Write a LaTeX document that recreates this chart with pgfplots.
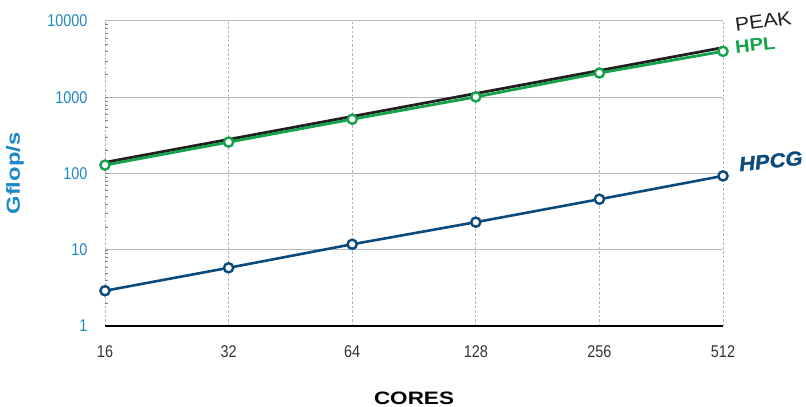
\documentclass[border=0pt]{standalone}
\usepackage{fontspec}
\setmainfont{Liberation Sans}
\newfontfamily\condfont[FakeStretch=0.85]{Liberation Sans}
\newfontfamily\widefont[FakeStretch=1.25]{Liberation Sans}
\newfontfamily\midfont[FakeStretch=1.12]{Liberation Sans}
\newfontfamily\heavyfont[FakeStretch=1.1, FakeBold=1.5]{Liberation Sans}
\usepackage{pgfplots}
\pgfplotsset{compat=1.18}
\definecolor{tickblue}{HTML}{1E88C6}
\definecolor{hpcgblue}{HTML}{0B4A7C}
\definecolor{hplgreen}{HTML}{14A24A}
\definecolor{peakblack}{HTML}{231F20}
\definecolor{xtickgray}{HTML}{333333}
\begin{document}
\begin{tikzpicture}[x=1pt,y=1pt]
\useasboundingbox (0,0) rectangle (806,407);
\begin{axis}[
  at={(105pt,81pt)}, anchor=south west,
  scale only axis, width=618pt, height=305pt,
  xmode=log, log basis x=2, ymode=log,
  xmin=16, xmax=512, ymin=1, ymax=10000,
  xtick={16,32,64,128,256,512},
  xticklabels={16,32,64,128,256,512},
  ytick={1,10,100,1000,10000},
  yticklabels={1,10,100,1000,10000},
  minor tick num=0, minor ytick={},
  major tick length=0pt,
  axis x line*=bottom, axis y line*=left,
  x axis line style={draw=black, line width=1.6pt, -},
  y axis line style={draw=none},
  xmajorgrids, ymajorgrids,
  x grid style={dash pattern=on 2.5pt off 2pt, black!30, line width=0.8pt},
  y grid style={black!28, line width=1pt},
  xticklabel style={font=\fontsize{17}{18}\selectfont\condfont, text=xtickgray, yshift=-16pt},
  yticklabel style={font=\fontsize{17}{18}\selectfont\condfont, text=tickblue, xshift=-14pt},
  xlabel={\fontsize{18}{20}\selectfont\widefont\bfseries CORES},
  xlabel style={text=black, at={(rel axis cs:0.5,0)}, yshift=-72pt, anchor=center},
  clip=false,
]
\addplot[peakblack, line width=2.8pt] coordinates {
  (16,140) (32,280) (64,560) (128,1120) (256,2240) (512,4480)};
\addplot[hplgreen, line width=2.8pt, mark=*, mark size=4.6pt,
  mark options={fill=white, draw=hplgreen, line width=2.4pt}] coordinates {
  (16,129) (32,258) (64,515) (128,1010) (256,2080) (512,4000)};
\addplot[hpcgblue, line width=2.6pt, mark=*, mark size=4.6pt,
  mark options={fill=white, draw=hpcgblue, line width=2.4pt}] coordinates {
  (16,2.9) (32,5.8) (64,11.8) (128,23) (256,46) (512,93)};
\node[rotate=8, anchor=west, text=peakblack, inner sep=0pt,
  font=\fontsize{19}{20}\selectfont\midfont] at (axis cs:512,8300) [xshift=12pt] {PEAK};
\node[rotate=6, anchor=west, text=hplgreen, inner sep=0pt,
  font=\fontsize{18}{20}\selectfont\midfont\bfseries] at (axis cs:512,4400) [xshift=12pt] {HPL};
\node[rotate=6, anchor=west, text=hpcgblue, inner sep=0pt,
  font=\fontsize{20}{22}\selectfont\heavyfont\bfseries\itshape] at (axis cs:512,125) [xshift=16pt] {HPCG};
\node[xshift=-90pt, rotate=90, anchor=center, text=tickblue, inner sep=0pt,
  font=\fontsize{19}{20}\selectfont\widefont\bfseries] at (rel axis cs:0,0.5) {Gflop/s};
\end{axis}
\end{tikzpicture}
\end{document}
